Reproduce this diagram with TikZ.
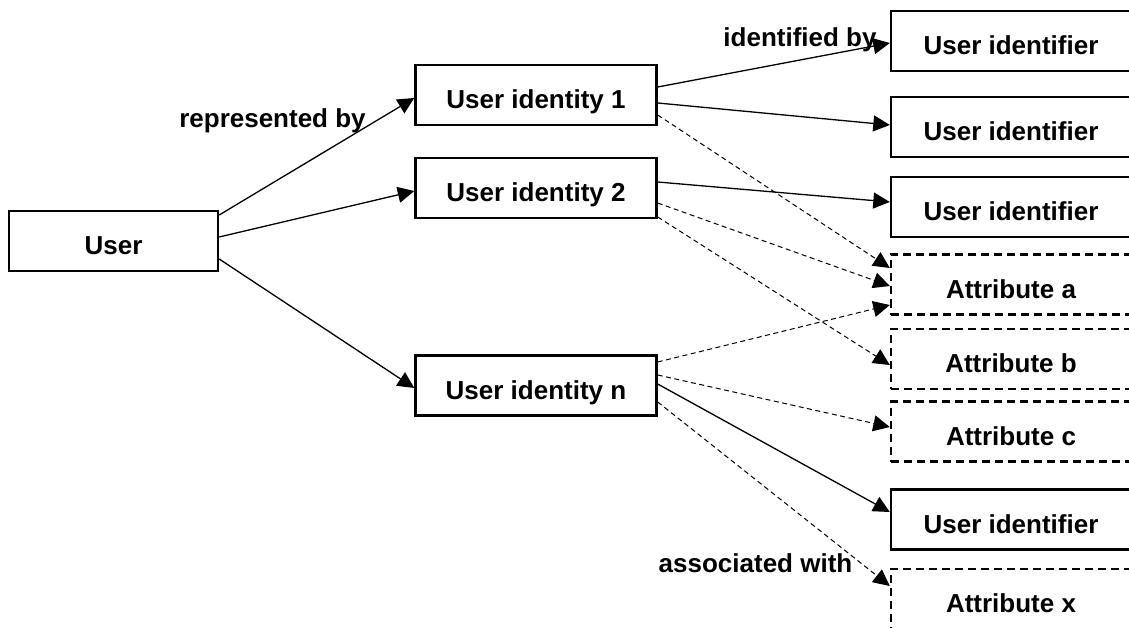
\documentclass[tikz,border=0pt]{standalone}
\usepackage{fontspec}
\setmainfont{Liberation Sans}
\usetikzlibrary{arrows.meta,calc}
\tikzset{
  boxfont/.style={font=\bfseries\fontsize{26}{31}\selectfont},
  basebox/.style={boxfont, draw, rectangle, inner sep=0pt, minimum height=60pt,
    text height=27.6pt, text depth=0pt, line width=2.4pt},
  leftbox/.style={basebox, minimum width=241pt},
  userbox/.style={basebox, minimum width=209pt},
  idbox/.style={basebox, minimum width=240pt},
  attrbox/.style={basebox, minimum width=240pt, dash pattern=on 8pt off 5pt},
  link/.style={line width=1.3pt, -{Triangle[length=16.5pt,width=16pt]}},
  dlink/.style={line width=1pt, dash pattern=on 5pt off 3.5pt, -{Triangle[length=16.5pt,width=16pt]}},
  lab/.style={boxfont, anchor=base, inner sep=0pt}
}
\begin{document}
\begin{tikzpicture}[x=1pt,y=-1pt]
\useasboundingbox (0,0) rectangle (1129,628);
\clip (0,0) rectangle (1129,628);
\fill[white] (0,0) rectangle (1129,628);
% left nodes
\node[userbox] (user) at (113.5,241) {User};
\node[leftbox] (ui1) at (536,95) {User identity 1};
\node[leftbox] (ui2) at (536,188) {User identity 2};
\node[leftbox] (uin) at (536,385.5) {User identity n};
% right nodes
\node[idbox] (id1) at (1011,41) {User identifier};
\node[idbox] (id2) at (1011,127) {User identifier};
\node[idbox] (id3) at (1011,207) {User identifier};
\node[attrbox] (atta) at (1011,284.5) {Attribute a};
\node[attrbox] (attb) at (1011,359) {Attribute b};
\node[attrbox] (attc) at (1011,431.5) {Attribute c};
\node[idbox] (id4) at (1011,519.5) {User identifier};
\node[attrbox] (attx) at (1011,599) {Attribute x};
% labels
\node[lab] (lrep) at (272.5,128) {represented by};
\node[lab] (lid) at (800,47) {identified by};
\node[lab] (lass) at (755.5,572) {associated with};
% connectors from user
\draw[link] ($(user.east)+(0,-26)$) -- ($(ui1.west)+(0,3)$);
\draw[link] ($(user.east)+(0,-4)$) -- ($(ui2.west)+(0,3)$);
\draw[link] ($(user.east)+(0,18)$) -- ($(uin.west)+(0,2.5)$);
% from identity 1
\draw[link] ($(ui1.east)+(0,-8)$) -- ($(id1.west)+(0,2)$);
\draw[link] ($(ui1.east)+(0,8)$) -- ($(id2.west)+(0,-2)$);
\draw[dlink] ($(ui1.east)+(0,20)$) -- ($(atta.west)+(0,-16.5)$);
% from identity 2
\draw[link] ($(ui2.east)+(0,-6)$) -- ($(id3.west)+(0,-5)$);
\draw[dlink] ($(ui2.east)+(0,15)$) -- ($(atta.west)+(0,1.5)$);
\draw[dlink] ($(ui2.east)+(0,29)$) -- ($(attb.west)+(0,6)$);
% from identity n
\draw[dlink] ($(uin.east)+(0,-23.5)$) -- ($(atta.west)+(0,20.5)$);
\draw[dlink] ($(uin.east)+(0,-10.5)$) -- ($(attc.west)+(0,-4.5)$);
\draw[link] ($(uin.east)+(0,-1.5)$) -- ($(id4.west)+(0,-7.5)$);
\draw[dlink] ($(uin.east)+(0,16.5)$) -- ($(attx.west)+(0,-13)$);
\end{tikzpicture}
\end{document}
